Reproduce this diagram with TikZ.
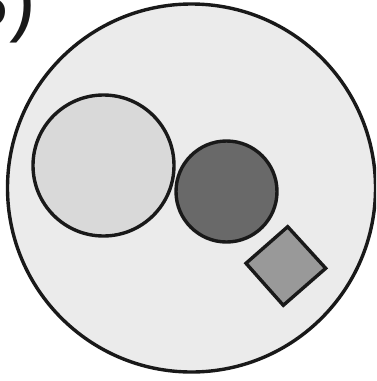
\documentclass[tikz,border=0pt]{standalone}
\usepackage{fontspec}
\setmainfont{Liberation Sans}
\begin{document}
\begin{tikzpicture}[x=1pt,y=-1pt,
  shapeline/.style={draw=black!90, line width=3.4pt},
  lbl/.style={inner sep=0pt, font=\fontsize{80}{80}\selectfont, text=black!90}]
\useasboundingbox (0,0) rectangle (376,381);
\clip (0,0) rectangle (376,381);
\fill[white] (0,0) rectangle (376,381);
\node[lbl, anchor=base east] (label) at (36,26) {3)};
\node[shapeline, circle, fill=black!8, minimum size=368pt, inner sep=0pt] (cell) at (191.5,188) {};
\node[shapeline, circle, fill=black!15, minimum size=141pt, inner sep=0pt] (big) at (103.5,165.5) {};
\node[shapeline, circle, fill=black!59, minimum size=101pt, inner sep=0pt] (dark) at (226.5,191.5) {};
\draw[shapeline, fill=black!40] (287.7,226.7) coordinate (dt) -- (325.7,268.3) coordinate (dr) -- (283.3,305.3) coordinate (db) -- (246,263.3) coordinate (dl) -- cycle;
\end{tikzpicture}
\end{document}
